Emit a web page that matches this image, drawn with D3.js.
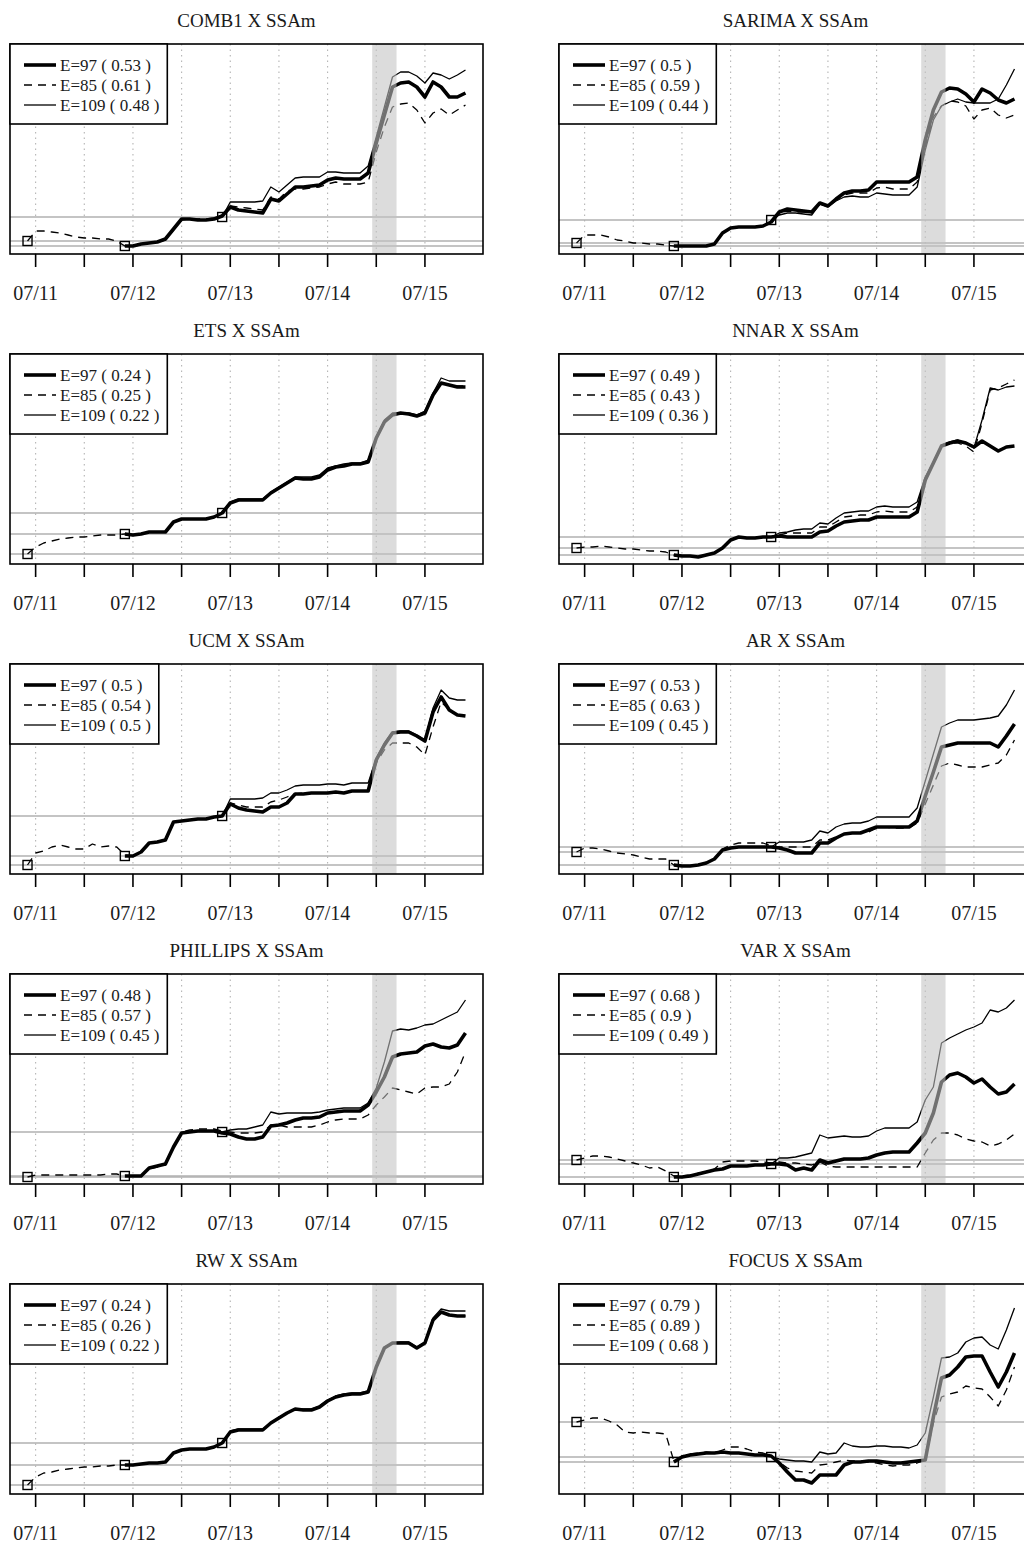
<!DOCTYPE html>
<html>
<head>
<meta charset="utf-8">
<script src="https://cdn.jsdelivr.net/npm/d3@7/dist/d3.min.js"></script>
<style>
  html, body { margin: 0; padding: 0; background: #fff; }
  svg { display: block; }
  text { font-family: "Liberation Serif", "Times New Roman", serif; fill: #1a1a1a; }
</style>
</head>
<body>
<svg id="chart" width="1024" height="1546"></svg>
<script>
// Monthly observations, June 2011 (index 0) to December 2015 (index 54)
const nMonths = 55;
const tickMonths = [1, 7, 13, 19, 25, 31, 37, 43, 49];
const labelMonths = [1, 13, 25, 37, 49];
const tickLabels = ["07/11", "07/12", "07/13", "07/14", "07/15"];
// Estimation windows: each forecast path starts at a different month
const windowNames = ["E=97", "E=85", "E=109"];
const windowKeys = ["e97", "e85", "e109"];
const windowStart = { e85: 0, e97: 12, e109: 24 };
// Shaded period (month index)
const shockPeriod = [42.5, 45.5];

const titles = ["COMB1 X SSAm", "SARIMA X SSAm", "ETS X SSAm", "NNAR X SSAm", "UCM X SSAm",
                "AR X SSAm", "PHILLIPS X SSAm", "VAR X SSAm", "RW X SSAm", "FOCUS X SSAm"];
// Error measure per window, in legend order (E=97, E=85, E=109)
const errE97  = ["0.53", "0.5", "0.24", "0.49", "0.5", "0.53", "0.48", "0.68", "0.24", "0.79"];
const errE85  = ["0.61", "0.59", "0.25", "0.43", "0.54", "0.63", "0.57", "0.9", "0.26", "0.89"];
const errE109 = ["0.48", "0.44", "0.22", "0.36", "0.5", "0.45", "0.45", "0.49", "0.22", "0.68"];

// ---- COMB1
const comb1_e85 = [1.3,2.3,2.3,2.2,2.1,1.9,1.7,1.6,1.6,1.5,1.5,1.3,0.8,
  0.8,0.9,1.1,1.2,1.4,2.4,3.4,3.5,3.5,3.5,3.6,3.9,
  4.8,4.7,4.6,4.5,4.4,5.7,5.5,6.3,6.5,6.5,6.6,6.7,7.0,7.2,7.0,7.0,7.0,7.2,
  10.2,12.7,14.7,15.0,15.1,14.4,13.1,14.1,14.5,13.9,14.4,14.9];
const comb1_e97 = [0.8,0.8,1.0,1.1,1.2,1.5,2.5,3.5,3.5,3.4,3.4,3.5,3.8,
  4.7,4.4,4.3,4.2,4.1,5.5,5.3,6.0,6.7,6.7,6.8,6.9,7.4,7.6,7.5,7.5,7.5,8.1,
  11.1,13.9,16.7,17.1,17.2,16.7,15.7,17.2,16.7,15.7,15.7,16.1];
const comb1_e109 = [3.7,
  5.2,5.2,5.2,5.2,5.3,6.7,6.2,6.9,7.6,7.7,7.7,7.7,8.2,8.2,8.1,8.1,8.1,8.8,
  11.7,14.7,17.7,18.2,18.2,17.8,17.1,18.1,17.9,17.5,17.9,18.4];

// ---- SARIMA
const sarima_e85 = [1.1,1.9,1.9,1.9,1.7,1.4,1.3,1.1,1.1,1.0,1.0,0.9,0.8,
  0.8,0.8,0.8,0.8,1.0,2.1,2.6,2.7,2.7,2.7,2.8,3.2,
  4.1,4.3,4.2,4.2,4.1,5.0,4.8,5.4,5.9,6.1,6.1,6.1,6.6,6.7,6.5,6.5,6.5,7.2,
  10.7,13.7,14.8,15.3,15.2,14.8,13.5,14.4,14.6,13.9,13.6,13.9];
const sarima_e97 = [0.8,0.8,0.8,0.8,0.8,1.0,2.1,2.6,2.7,2.7,2.7,2.8,3.2,
  4.2,4.5,4.4,4.3,4.2,5.1,4.8,5.5,6.1,6.3,6.3,6.4,7.2,7.2,7.2,7.2,7.2,7.7,
  11.4,14.4,16.2,16.6,16.5,16.0,15.2,16.5,16.1,15.4,15.1,15.5];
const sarima_e109 = [3.4,
  3.9,4.1,4.1,4.0,3.9,5.0,4.7,5.3,5.7,5.8,5.7,5.7,6.1,6.0,5.9,5.9,5.9,6.7,
  10.4,13.4,14.8,15.2,15.5,15.2,15.1,15.1,15.1,15.5,16.9,18.5];

// ---- ETS
const ets_e85 = [1.0,1.7,2.1,2.3,2.5,2.6,2.7,2.7,2.8,2.9,2.9,2.9,3.0,
  3.0,3.0,3.2,3.2,3.2,4.2,4.5,4.5,4.5,4.5,4.7,5.1,
  6.1,6.4,6.4,6.4,6.4,7.1,7.6,8.1,8.6,8.5,8.5,8.7,9.4,9.7,9.8,10.0,10.0,10.2,
  12.6,14.2,14.9,15.1,15.0,14.8,15.1,16.9,18.1,17.9,17.8,17.8];
const ets_e97 = [3.0,2.9,3.0,3.2,3.2,3.2,4.2,4.5,4.5,4.5,4.5,4.7,5.1,
  6.1,6.4,6.4,6.4,6.4,7.1,7.6,8.1,8.6,8.5,8.5,8.7,9.4,9.7,9.8,10.0,10.0,10.2,
  12.6,14.2,14.9,15.1,15.0,14.8,15.1,16.9,18.1,17.9,17.7,17.7];
const ets_e109 = [5.1,
  6.2,6.5,6.5,6.5,6.5,7.2,7.7,8.2,8.7,8.7,8.7,8.9,9.6,9.8,10.0,10.1,10.1,10.4,
  12.7,14.4,15.1,15.1,15.1,14.9,15.3,17.1,18.6,18.3,18.3,18.3];

// ---- NNAR
const nnar_e85 = [1.6,1.7,1.7,1.8,1.7,1.6,1.5,1.5,1.4,1.3,1.3,1.2,0.9,
  0.8,0.8,0.7,0.9,1.1,1.6,2.4,2.7,2.6,2.6,2.7,2.7,
  2.9,3.1,3.1,3.1,3.1,3.7,3.7,4.2,4.7,4.8,4.9,4.9,5.2,5.3,5.2,5.2,5.2,5.7,
  8.4,10.1,11.8,12.1,12.1,11.8,11.2,14.1,17.4,17.6,18.0,18.4];
const nnar_e97 = [0.9,0.8,0.8,0.7,0.9,1.1,1.6,2.4,2.7,2.6,2.6,2.7,2.7,
  2.8,2.7,2.7,2.7,2.7,3.2,3.3,3.8,4.2,4.3,4.4,4.4,4.7,4.7,4.7,4.7,4.7,5.2,
  8.4,10.1,11.8,12.1,12.3,12.1,11.7,12.3,11.8,11.3,11.7,11.8];
const nnar_e109 = [2.7,
  3.1,3.2,3.4,3.5,3.5,4.1,4.0,4.6,5.1,5.2,5.3,5.3,5.7,5.8,5.7,5.7,5.7,6.2,
  8.7,10.2,11.9,12.2,12.4,12.1,11.6,14.4,17.6,17.4,17.7,17.8];

// ---- UCM
const ucm_e85 = [0.9,2.1,2.3,2.7,2.9,2.7,2.5,2.5,3.0,2.7,2.8,2.7,1.9,
  1.8,2.2,3.1,3.2,3.4,5.2,5.3,5.4,5.5,5.5,5.7,5.8,
  7.1,6.9,6.7,6.7,6.7,7.2,7.4,7.7,8.0,8.1,8.1,8.1,8.1,8.2,8.1,8.3,8.3,8.3,
  11.1,12.4,13.1,13.1,13.1,12.7,11.9,14.7,17.2,16.4,15.9,15.8];
const ucm_e97 = [1.8,1.8,2.2,3.1,3.2,3.4,5.2,5.3,5.4,5.5,5.5,5.7,5.8,
  7.0,6.6,6.4,6.3,6.2,6.7,6.7,7.1,8.0,8.0,8.1,8.1,8.1,8.2,8.1,8.3,8.3,8.3,
  11.4,12.9,14.1,14.2,14.2,13.8,13.3,16.2,17.7,16.4,15.9,15.8];
const ucm_e109 = [5.8,
  7.5,7.5,7.5,7.5,7.6,8.1,8.1,8.4,8.8,8.9,8.9,8.9,9.0,9.0,8.9,9.1,9.1,9.1,
  11.6,13.1,14.2,14.3,14.3,13.9,13.4,16.6,18.4,17.6,17.4,17.4];

// ---- AR
const ar_e85 = [2.2,2.6,2.6,2.5,2.3,2.1,2.0,1.9,1.7,1.5,1.5,1.5,0.9,
  0.8,0.8,0.9,1.1,1.5,2.5,2.9,3.1,3.1,3.1,3.1,2.8,
  2.7,2.7,2.7,2.7,2.7,3.4,3.4,3.7,4.0,4.1,4.1,4.2,4.6,4.7,4.6,4.6,4.6,5.1,
  7.0,8.9,10.8,11.1,10.9,10.7,10.7,10.7,10.9,11.1,11.9,13.4];
const ar_e97 = [0.9,0.8,0.8,0.9,1.1,1.5,2.4,2.6,2.7,2.7,2.7,2.7,2.7,
  2.6,2.4,2.1,2.1,2.1,3.1,3.1,3.6,4.0,4.1,4.1,4.4,4.7,4.7,4.7,4.7,4.7,5.3,
  7.8,10.2,12.7,12.9,13.1,13.1,13.1,13.1,13.1,12.7,13.8,15.0];
const ar_e109 = [2.7,
  3.2,3.2,3.2,3.2,3.4,4.3,4.1,4.7,5.0,5.1,5.1,5.3,5.7,5.7,5.7,5.7,5.7,6.6,
  9.3,12.0,14.7,15.1,15.4,15.4,15.4,15.5,15.6,15.8,16.9,18.4];

// ---- PHILLIPS
const phillips_e85 = [0.7,0.9,0.9,0.9,0.9,0.9,0.9,0.9,0.9,0.9,1.0,1.0,0.8,
  0.8,0.8,1.5,1.7,1.9,3.7,5.2,5.4,5.5,5.5,5.5,5.3,
  5.2,5.1,5.1,5.1,5.2,5.9,5.9,5.7,5.7,5.7,5.7,5.9,6.2,6.4,6.5,6.5,6.5,6.9,
  7.9,8.7,9.6,9.4,9.2,9.0,9.6,9.7,9.7,10.0,11.2,13.2];
const phillips_e97 = [0.8,0.8,0.8,1.6,1.8,2.0,3.7,5.1,5.2,5.3,5.3,5.3,5.1,
  5.0,4.7,4.5,4.5,4.7,5.8,5.9,6.1,6.4,6.6,6.6,6.7,7.1,7.2,7.3,7.3,7.3,7.9,
  9.2,10.7,12.7,13.0,13.1,13.2,13.8,14.0,13.7,13.6,13.9,15.1];
const phillips_e109 = [5.2,
  5.4,5.5,5.5,5.7,5.9,7.2,7.0,7.1,7.1,7.1,7.1,7.2,7.4,7.5,7.6,7.6,7.6,8.1,
  9.6,12.2,15.3,15.5,15.4,15.6,15.9,16.0,16.4,16.8,17.2,18.4];

// ---- VAR
const var_e85 = [2.4,2.6,2.8,2.8,2.7,2.5,2.3,2.1,1.9,1.6,1.7,1.3,0.8,
  0.8,0.9,1.1,1.2,1.5,2.2,2.3,2.3,2.3,2.3,2.2,2.1,
  2.2,2.1,2.1,2.0,1.9,2.2,1.8,1.7,1.7,1.7,1.7,1.7,1.7,1.7,1.7,1.7,1.7,1.7,
  3.1,4.4,5.1,5.1,4.9,4.5,4.3,4.2,3.8,4.0,4.4,5.0];
const var_e97 = [0.7,0.7,0.8,1.0,1.2,1.4,1.5,1.8,1.8,1.8,1.9,1.9,2.0,
  2.0,1.9,1.4,1.6,1.4,2.4,2.1,2.3,2.5,2.5,2.5,2.6,2.9,3.1,3.2,3.2,3.2,4.1,
  5.1,7.1,10.2,10.9,11.1,10.7,10.1,10.5,9.7,9.0,9.2,10.0];
const var_e109 = [2.0,
  2.6,2.6,2.7,2.9,3.1,4.9,4.6,4.7,4.8,4.7,4.7,4.8,5.3,5.6,5.6,5.6,5.6,6.2,
  8.4,9.7,14.1,14.6,15.0,15.4,15.7,16.1,17.4,17.2,17.6,18.4];

// ---- RW
const rw_e85 = [0.9,1.7,2.1,2.2,2.4,2.5,2.6,2.7,2.7,2.8,2.8,2.9,2.9,
  2.9,3.0,3.1,3.1,3.2,4.1,4.4,4.5,4.5,4.5,4.7,5.1,
  6.2,6.4,6.4,6.4,6.4,7.1,7.6,8.1,8.5,8.4,8.4,8.7,9.3,9.7,9.9,10.0,10.0,10.2,
  12.7,14.6,15.1,15.1,15.1,14.6,15.1,17.4,18.2,17.9,17.8,17.8];
const rw_e97 = [2.9,2.9,3.0,3.1,3.1,3.2,4.1,4.4,4.5,4.5,4.5,4.7,5.1,
  6.2,6.4,6.4,6.4,6.4,7.1,7.6,8.1,8.5,8.4,8.4,8.7,9.3,9.7,9.9,10.0,10.0,10.2,
  12.7,14.6,15.1,15.1,15.1,14.6,15.1,17.4,18.2,17.9,17.8,17.8];
const rw_e109 = [5.1,
  6.3,6.5,6.5,6.5,6.5,7.1,7.7,8.1,8.5,8.5,8.5,8.8,9.4,9.8,10.0,10.1,10.1,10.3,
  12.8,14.7,15.1,15.2,15.2,14.7,15.2,17.6,18.5,18.3,18.3,18.3];

// ---- FOCUS
const focus_e85 = [7.2,7.4,7.6,7.6,7.3,6.9,6.2,6.1,6.2,6.1,6.1,6.0,3.3,
  3.8,4.0,4.1,4.2,4.1,4.4,4.7,4.7,4.5,4.2,4.1,3.8,
  3.2,2.6,2.3,2.2,2.1,2.9,3.0,3.2,3.4,3.3,3.3,3.2,3.1,2.9,2.8,2.9,2.9,3.1,
  3.4,7.1,9.7,10.0,10.2,10.8,10.6,10.5,9.7,8.8,10.4,12.7];
const focus_e97 = [3.2,3.7,3.9,4.0,4.1,4.1,4.2,4.1,4.1,4.0,3.9,3.9,3.8,
  3.1,2.2,1.4,1.4,1.1,1.9,1.9,1.9,2.9,3.2,3.2,3.3,3.3,3.2,3.1,3.1,3.2,3.3,
  3.4,7.7,11.6,11.9,12.7,13.7,13.8,13.8,12.2,10.7,12.2,14.1];
const focus_e109 = [3.7,
  3.5,3.4,3.3,3.3,3.2,4.2,4.0,4.1,5.1,4.8,4.7,4.7,4.8,4.8,4.7,4.7,4.6,4.9,
  6.1,9.7,13.6,13.7,14.1,15.2,15.6,15.7,14.9,14.5,16.4,18.6];

const panels = [
  { e85: comb1_e85,    e97: comb1_e97,    e109: comb1_e109 },
  { e85: sarima_e85,   e97: sarima_e97,   e109: sarima_e109 },
  { e85: ets_e85,      e97: ets_e97,      e109: ets_e109 },
  { e85: nnar_e85,     e97: nnar_e97,     e109: nnar_e109 },
  { e85: ucm_e85,      e97: ucm_e97,      e109: ucm_e109 },
  { e85: ar_e85,       e97: ar_e97,       e109: ar_e109 },
  { e85: phillips_e85, e97: phillips_e97, e109: phillips_e109 },
  { e85: var_e85,      e97: var_e97,      e109: var_e109 },
  { e85: rw_e85,       e97: rw_e97,       e109: rw_e109 },
  { e85: focus_e85,    e97: focus_e97,    e109: focus_e109 }
].map((p, i) => Object.assign(p, {
  title: titles[i],
  err: { e97: errE97[i], e85: errE85[i], e109: errE109[i] }
}));

// ---- layout
const svg = d3.select("#chart");
const plotW = 473, plotH = 210;
const colX = [10, 559];
const rowY0 = 44, rowStep = 310;
const yDomain = [0, 21];

const lineStyle = {
  e97:  { width: 3.6, dash: null },
  e85:  { width: 1.3, dash: "8,6" },
  e109: { width: 1.3, dash: null }
};

panels.forEach((p, i) => {
  const col = i % 2, row = Math.floor(i / 2);
  const x0 = colX[col], y0 = rowY0 + row * rowStep;
  const g = svg.append("g");

  const pad = 0.04 * (nMonths - 1);
  const x = d3.scaleLinear().domain([-pad, nMonths - 1 + pad]).range([x0, x0 + plotW]);
  const y = d3.scaleLinear().domain(yDomain).range([y0 + plotH, y0]);

  const clipId = "clip" + i;
  g.append("clipPath").attr("id", clipId)
    .append("rect").attr("x", x0).attr("y", y0).attr("width", plotW).attr("height", plotH);

  const inner = g.append("g").attr("clip-path", `url(#${clipId})`);

  // dotted vertical guides at each tick
  inner.selectAll("line.grid").data(tickMonths).join("line")
    .attr("x1", d => x(d)).attr("x2", d => x(d))
    .attr("y1", y0).attr("y2", y0 + plotH)
    .attr("stroke", "#b4b4b4").attr("stroke-width", 1.1)
    .attr("stroke-dasharray", "1.5,4");

  // reference levels at the first value of each window
  inner.selectAll("line.ref").data(windowKeys).join("line")
    .attr("x1", x0).attr("x2", x0 + plotW)
    .attr("y1", k => y(p[k][0])).attr("y2", k => y(p[k][0]))
    .attr("stroke", "#b0b0b0").attr("stroke-width", 1.5);

  // forecast paths
  ["e85", "e97", "e109"].forEach(k => {
    const start = windowStart[k];
    const line = d3.line().x((d, j) => x(start + j)).y(d => y(d));
    inner.append("path").datum(p[k])
      .attr("d", line)
      .attr("fill", "none")
      .attr("stroke", "#000")
      .attr("stroke-width", lineStyle[k].width)
      .attr("stroke-linejoin", "round")
      .attr("stroke-dasharray", lineStyle[k].dash);
  });

  // start markers
  inner.selectAll("rect.start").data(windowKeys).join("rect")
    .attr("x", k => x(windowStart[k]) - 4.5)
    .attr("y", k => y(p[k][0]) - 4.5)
    .attr("width", 9).attr("height", 9)
    .attr("fill", "none").attr("stroke", "#000").attr("stroke-width", 1.4);

  // shaded period
  inner.append("rect")
    .attr("x", x(shockPeriod[0])).attr("y", y0)
    .attr("width", x(shockPeriod[1]) - x(shockPeriod[0])).attr("height", plotH)
    .attr("fill", "rgb(194,194,194)").attr("fill-opacity", 0.58);

  // frame
  g.append("rect").attr("x", x0).attr("y", y0).attr("width", plotW).attr("height", plotH)
    .attr("fill", "none").attr("stroke", "#000").attr("stroke-width", 1.6);

  // x axis ticks and labels
  g.selectAll("line.tick").data(tickMonths).join("line")
    .attr("x1", d => x(d)).attr("x2", d => x(d))
    .attr("y1", y0 + plotH).attr("y2", y0 + plotH + 13)
    .attr("stroke", "#000").attr("stroke-width", 1.6);
  g.selectAll("text.tick").data(labelMonths).join("text")
    .attr("x", d => x(d)).attr("y", y0 + plotH + 46)
    .attr("text-anchor", "middle").attr("font-size", 20)
    .text((d, j) => tickLabels[j]);

  // title
  g.append("text").attr("x", x0 + plotW / 2).attr("y", y0 - 17)
    .attr("text-anchor", "middle").attr("font-size", 19)
    .text(p.title);

  // legend
  const lg = g.append("g");
  const lbox = lg.append("rect").attr("x", x0).attr("y", y0).attr("height", 80)
    .attr("fill", "#fff").attr("stroke", "#000").attr("stroke-width", 1.6);
  let maxW = 0;
  windowKeys.forEach((k, j) => {
    const ly = y0 + 21 + j * 20;
    lg.append("line").attr("x1", x0 + 14).attr("x2", x0 + 46)
      .attr("y1", ly).attr("y2", ly)
      .attr("stroke", "#000").attr("stroke-width", lineStyle[k].width)
      .attr("stroke-dasharray", lineStyle[k].dash);
    const t = lg.append("text").attr("x", x0 + 50).attr("y", ly + 6)
      .attr("font-size", 17)
      .text(`${windowNames[j]} ( ${p.err[k]} )`);
    maxW = Math.max(maxW, t.node().getComputedTextLength());
  });
  lbox.attr("width", 50 + maxW + 8);
});
</script>
</body>
</html>
